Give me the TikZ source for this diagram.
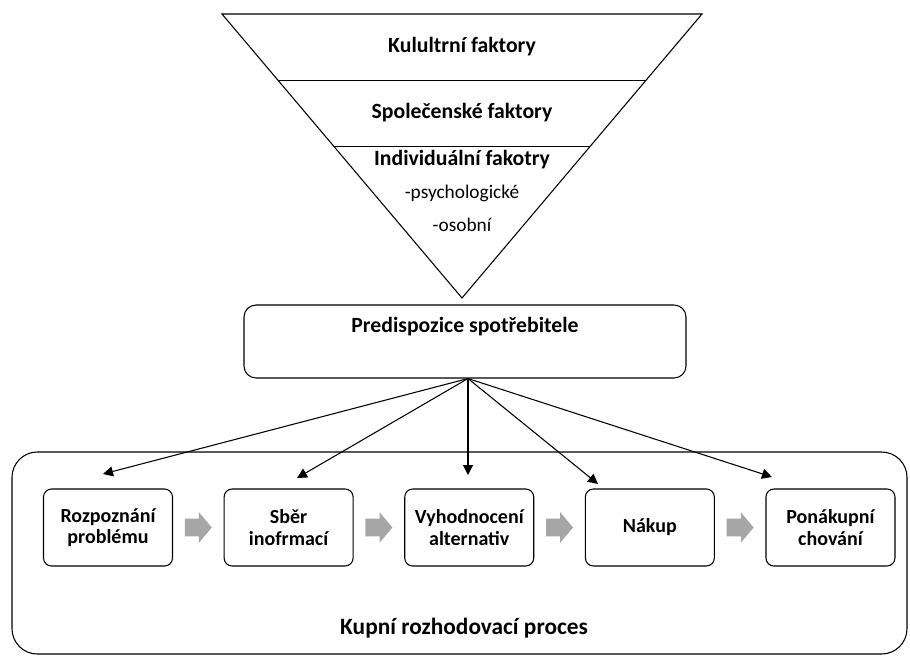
\documentclass[tikz,border=0pt]{standalone}
\usepackage{fontspec}
\setmainfont{Carlito}
\usetikzlibrary{
	calc,
	positioning,
	chains,
	shapes.arrows,
	arrows.meta
}

\begin{document}
\begin{tikzpicture}[x=0.75pt,y=-0.75pt,node distance=8.6pt,start chain=going right,
 box/.style={draw,thick,rounded corners=6pt,minimum width=96.75pt,minimum height=57.75pt,align=center,font=\bfseries\fontsize{15}{16}\selectfont,on chain},
 garrow/.style={single arrow,fill=black!35,draw=none,inner xsep=0pt,inner ysep=6.4pt,minimum height=20.25pt,single arrow head extend=4.9pt,single arrow tip angle=100,on chain},
 title/.style={font=\bfseries\fontsize{16.3}{19}\selectfont,align=center},
 sub/.style={font=\fontsize{14.5}{16}\selectfont},
 tip/.style={-{Triangle[length=7.5pt,width=7.5pt]},thick},
]
\useasboundingbox (0,0) rectangle (910,657);

% funnel of factors
\coordinate (tl) at (222,14);
\coordinate (tr) at (702,14);
\coordinate (apex) at (462,298);
\draw[thick] (tl) -- (tr) -- (apex) -- cycle;
\draw[thick] ($(tl)!.235!(apex)$) -- ($(tr)!.235!(apex)$)
             ($(tl)!.465!(apex)$) -- ($(tr)!.465!(apex)$);
\node[title] (f1) at (462,47)  {Kulultrní faktory};
\node[title] (f2) at (462,113) {Společenské faktory};
\node[title] (f3) at (462,160) {Individuální fakotry};
\node[sub]   (f4) at (462,193) {-psychologické};
\node[sub]   (f5) at (462,225) {-osobní};

\node[draw,thick,rounded corners=9pt,minimum width=331.5pt,minimum height=54.75pt,title]
     (pred) at (465,341.5) {Predispozice spotřebitele\\ \strut};

% purchase process
\node[draw,thick,rounded corners=19pt,minimum width=671.25pt,minimum height=151.5pt]
     (proc) at (459.5,553) {};
\node[title,font=\bfseries\fontsize{17.5}{20}\selectfont] (pt) at (464,628) {Kupní rozhodovací proces};

\node[box] (s1) at (108,527.5) {Rozpoznání\\problému};
\node[garrow] (a1) {};
\node[box] (s2) {Sběr\\inofrmací};
\node[garrow] (a2) {};
\node[box] (s3) {Vyhodnocení\\alternativ};
\node[garrow] (a3) {};
\node[box] (s4) {Nákup};
\node[garrow] (a4) {};
\node[box] (s5) {Ponákupní\\chování};

\coordinate (e1) at (103,474);
\coordinate (e2) at (297,478);
\coordinate (e3) at (468,475);
\coordinate (e4) at (598,484);
\coordinate (e5) at (772,477);
\foreach \i in {1,...,5}
  \draw[tip] ([xshift=2.25pt]pred.south) -- (e\i);
\end{tikzpicture}
\end{document}
